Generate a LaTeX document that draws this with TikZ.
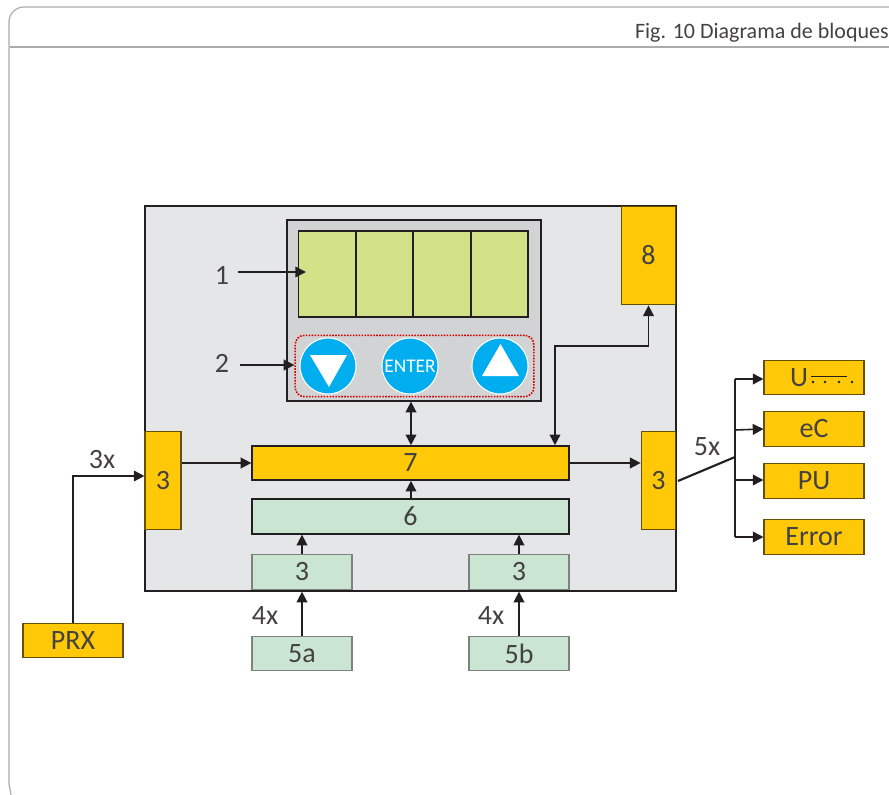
\documentclass[tikz,border=0pt]{standalone}
\usepackage{fontspec}
\setmainfont{Carlito}
\usetikzlibrary{arrows.meta}
\definecolor{panelgrey}{HTML}{E5E6E8}
\definecolor{dispgrey}{HTML}{D1D3D4}
\definecolor{lcdgreen}{HTML}{D3E288}
\definecolor{blockyellow}{HTML}{FFC907}
\definecolor{blockgreen}{HTML}{CBE5D3}
\definecolor{keyblue}{HTML}{00AEEF}
\definecolor{framegrey}{HTML}{ABABAB}
\definecolor{inkblack}{HTML}{231F20}
\begin{document}
\begin{tikzpicture}[
    x=0.75pt, y=-0.75pt,
    txt/.style={font=\fontsize{21pt}{24pt}\selectfont, text=inkblack!85, inner sep=0pt},
    yellowbox/.style={draw=black!60!blockyellow, line width=0.8pt, fill=blockyellow, inner sep=0pt,
                minimum width=75pt, minimum height=26pt, txt},
    greenbox/.style={draw=black!50, line width=0.8pt, fill=blockgreen, inner sep=0pt,
                minimum width=75pt, minimum height=26pt, txt},
    lcdcell/.style={draw=inkblack, line width=1.2pt, fill=lcdgreen, inner sep=0pt,
                minimum width=43pt, minimum height=64.5pt},
    keybtn/.style={circle, draw=white, line width=0.8pt, fill=keyblue, inner sep=0pt,
                minimum size=42pt},
    arr/.style={->, >={Triangle[length=8pt, width=8pt]}, line width=1.2pt, draw=inkblack},
    dblarr/.style={arr, <->}
]
  \useasboundingbox (0,0) rectangle (889,795);

  % Page frame
  \draw[framegrey, line width=0.9pt] (12,796) to[out=-100, in=90] (9,785) -- (9,22)
       to[out=90, in=180] (24,7) -- (889,7);
  \draw[framegrey, line width=0.9pt] (10,47) -- (889,47);
  \node[font=\fontsize{16.5pt}{18pt}\selectfont, text=inkblack!85, inner sep=0pt, anchor=east]
       (figtitle) at (889,33) {Fig. 10 Diagrama de bloques};

  % Device
  \node[draw=inkblack, line width=1.2pt, fill=panelgrey, minimum width=398pt, minimum height=288.5pt,
        inner sep=0pt] (devbox) at (410.5,398.5) {};
  \node[yellowbox, minimum width=41pt, minimum height=74pt] (blockeight) at (648.5,255.5) {8};

  % Display
  \node[draw=inkblack, line width=1.2pt, fill=dispgrey, minimum width=190.5pt, minimum height=135.5pt,
        inner sep=0pt] (dispbox) at (414,310.5) {};
  \node[lcdcell] (cella) at (327,274) {};
  \node[lcdcell] (cellb) at (384.5,274) {};
  \node[lcdcell] (cellc) at (442,274) {};
  \node[lcdcell] (celld) at (499.5,274) {};

  % Keys
  \node[draw=red!85!black, densely dotted, line width=1.2pt, rounded corners=7pt, minimum width=179pt,
        minimum height=46pt, inner sep=0pt] (keybox) at (414.5,366) {};
  \node[keybtn] (keydown) at (328,366) {};
  \node[keybtn, text=white, font=\fontsize{14.5pt}{16pt}\selectfont] (keyenter) at (410,366) {ENTER};
  \node[keybtn] (keyup) at (500,366) {};
  \fill[white] (310,355) -- (347,355) -- (329,387) -- cycle;
  \fill[white] (482,376) -- (519,376) -- (500.5,344) -- cycle;

  % Blocks
  \node[yellowbox, draw=inkblack, line width=1.2pt, minimum width=237.5pt, minimum height=25.5pt] (blockseven) at (410.5,463) {7};
  \node[greenbox, draw=inkblack, line width=1.2pt, minimum width=237.5pt, minimum height=26pt] (blocksix) at (410.5,516.5) {6};
  \node[greenbox] (ioa) at (302,572) {3};
  \node[greenbox] (iob) at (519,572) {3};
  \node[yellowbox, minimum width=27pt, minimum height=74pt] (ioleft) at (163,480.5) {3};
  \node[yellowbox, minimum width=26pt, minimum height=74pt] (ioright) at (658.5,480.5) {3};

  % Outside
  \node[yellowbox] (prx) at (73,640.5) {PRX};
  \node[greenbox] (fivea) at (302,653.5) {5a};
  \node[greenbox] (fiveb) at (519,653.5) {5b};
  \node[yellowbox] (outu) at (814,377.5) {};
  \node[yellowbox] (outec) at (814,429) {eC};
  \node[yellowbox] (outpu) at (814,481) {PU};
  \node[yellowbox] (outerr) at (814,537) {Error};
  \node[txt] (utext) at (799,378) {U};
  \draw[inkblack, line width=0.6pt] (811,376) -- (847,376);
  \foreach \dotx in {813,825,839,852}
    \fill[inkblack] (\dotx,382) circle (1.1pt);

  % Labels
  \node[txt] (labone) at (222,275) {1};
  \node[txt] (labtwo) at (222,363) {2};
  \node[txt] (labthree) at (102,460) {3x};
  \node[txt] (labfoura) at (265,616) {4x};
  \node[txt] (labfourb) at (491,616) {4x};
  \node[txt] (labfive) at (707,447) {5x};

  % Arrows
  \draw[arr] (238,272) -- (306,272);
  \draw[arr] (240,365) -- (keybox.west |- 0,365);
  \draw[arr] (prx.north) |- (ioleft.west |- 0,476);
  \draw[arr] (ioleft.east |- blockseven) -- (blockseven.west);
  \draw[arr] (blockseven.east) -- (ioright.west |- blockseven);
  \draw[dblarr] (blockseven.north -| 411,0) -- (dispbox.south -| 411,0);
  \draw[arr] (blocksix.north -| 411,0) -- (blockseven.south -| 411,0);
  \draw[arr] (ioa.north) -- (blocksix.south -| ioa);
  \draw[arr] (iob.north) -- (blocksix.south -| iob);
  \draw[arr] (fivea.north) -- (devbox.south -| fivea);
  \draw[arr] (fiveb.north) -- (devbox.south -| fiveb);
  \draw[dblarr] (blockseven.north -| 555,0) -- (555,346) -| (blockeight.south);

  % Output fan
  \coordinate (fantop) at (735,379);
  \coordinate (fanbot) at (735,537);
  \coordinate (fanmid) at (735,457);
  \draw[inkblack, line width=1.6pt] (fantop) -- (fanbot);
  \draw[inkblack, line width=1.6pt] (678,481) -- (fanmid);
  \draw[arr] (fantop) -- (outu.west |- fantop);
  \draw[arr] (735,430) -- (outec.west);
  \draw[arr] (735,480) -- (outpu.west |- 0,480);
  \draw[arr] (fanbot) -- (outerr.west |- fanbot);
\end{tikzpicture}
\end{document}
